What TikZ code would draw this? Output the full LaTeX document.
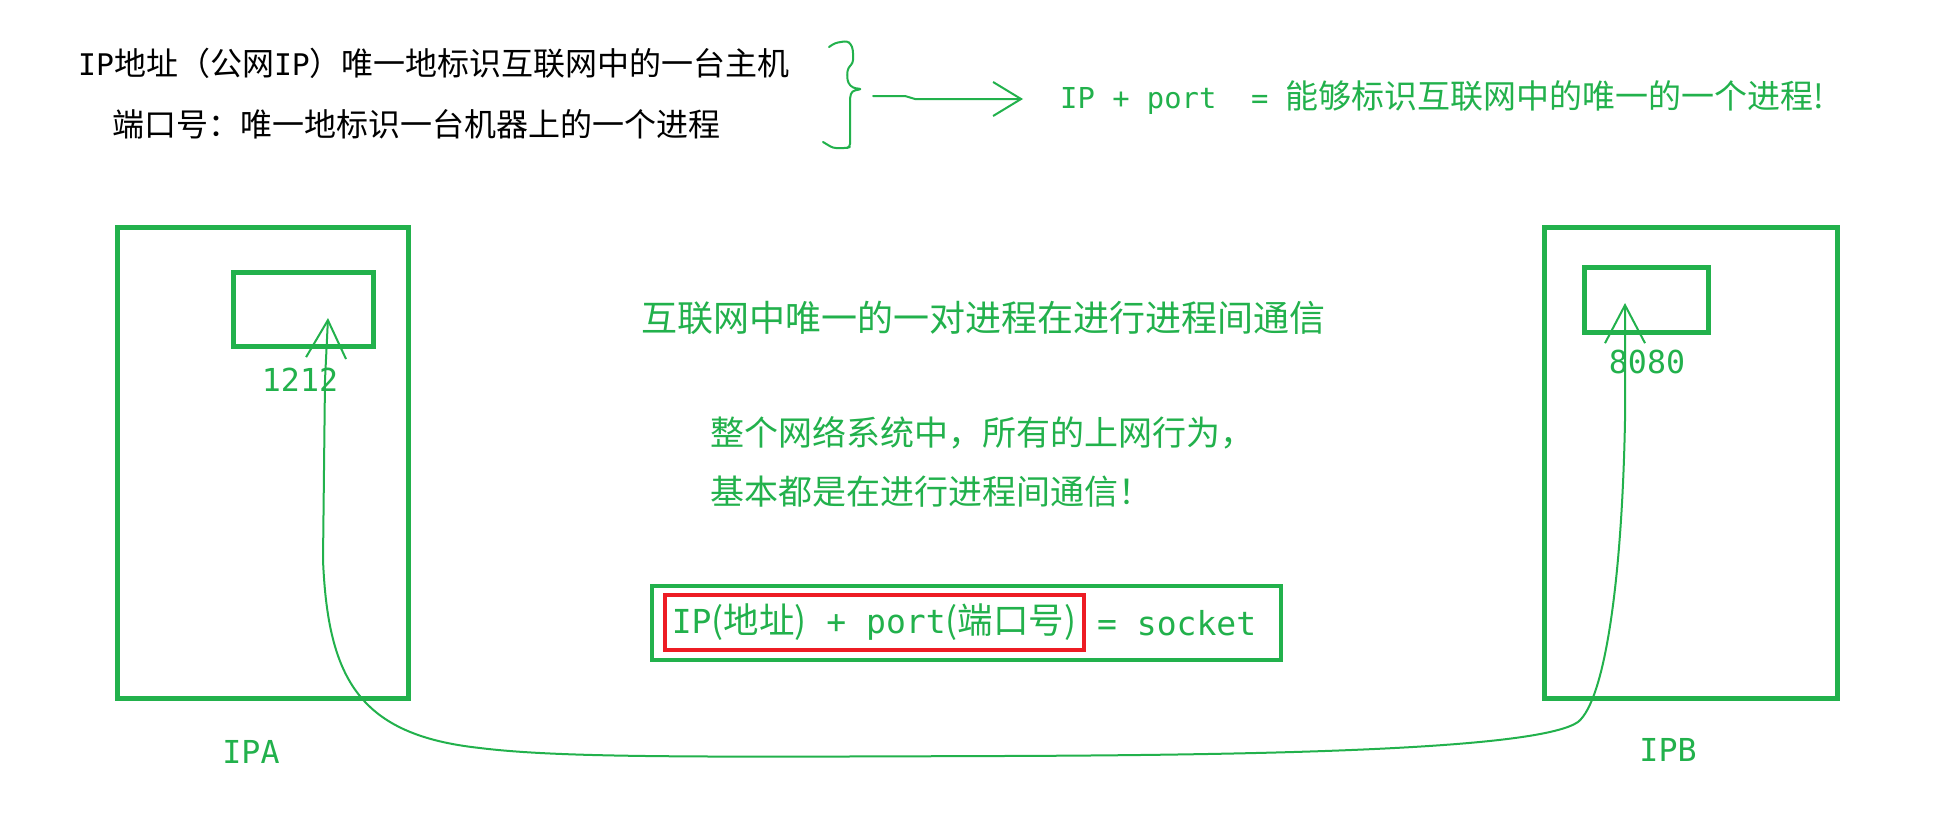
\documentclass[tikz,border=0pt]{standalone}
\usepackage{fontspec}
\usetikzlibrary{arrows.meta}
\newfontfamily\cjk{Noto Sans CJK SC}
\newfontfamily\mono[Scale=0.93]{DejaVu Sans Mono}
\definecolor{pgreen}{RGB}{34,177,76}
\definecolor{pred}{RGB}{237,28,36}
\begin{document}
\begin{tikzpicture}[x=1pt,y=-1pt,
  hostbox/.style={draw=pgreen, line width=5pt, inner sep=0pt},
  blacktxt/.style={inner sep=0pt, anchor=west, font=\fontsize{32}{38}\selectfont\cjk, text=black},
  greentxt/.style={inner sep=0pt, font=\fontsize{34}{40}\selectfont\cjk, text=pgreen},
  monolbl/.style={inner sep=0pt, font=\fontsize{34}{40}\selectfont\mono, text=pgreen},
  hand/.style={draw=pgreen, line width=2pt, line cap=round, line join=round},
  barb/.tip={Straight Barb[length=38pt,width=40pt]},
  smallbarb/.tip={Straight Barb[length=28pt,width=34pt]}
]
\useasboundingbox (0,0) rectangle (1958,812);
\fill[white] (0,0) rectangle (1958,812);

% top statements
\node[blacktxt] (ipline) at (78,63) {{\mono IP}地址（公网{\mono IP}）唯一地标识互联网中的一台主机};
\node[blacktxt] (portline) at (112,124) {端口号：唯一地标识一台机器上的一个进程};

% brace
\draw[hand, rounded corners=3pt] (829,47) -- (835,43) -- (847,41) -- (851,44) -- (853,50) -- (853,63) -- (848,68) -- (847,75) -- (848,83) -- (853,88) -- (862,89) -- (852,91) -- (850,97) -- (850,147) -- (847,148) -- (833,148) -- (828,145) -- (823,142);

\coordinate (braceTip) at (873,96);
\coordinate (arrEnd) at (1023,99);
\draw[hand, -smallbarb] (braceTip) -- ++(32,0) -- ++(10,3) -- (arrEnd);

\node[greentxt, anchor=west, font=\fontsize{33}{38}\selectfont\cjk] (ipport) at (1060,98) {{\fontsize{31}{36}\selectfont\mono IP + port\ \ = }能够标识互联网中的唯一的一个进程!};

% hosts
\node[hostbox, minimum width=291pt, minimum height=471pt] (hostA) at (262.5,462.5) {};
\node[hostbox, minimum width=140pt, minimum height=74pt] (portA) at (303,309) {};
\node[hostbox, minimum width=293pt, minimum height=471pt] (hostB) at (1690.5,462.5) {};
\node[hostbox, minimum width=124pt, minimum height=65pt] (portB) at (1646,299.5) {};

\node[monolbl] (lblA) at (300,380) {1212};
\node[monolbl] (lblB) at (1647,362) {8080};
\node[monolbl] (ipa) at (251,752) {IPA};
\node[monolbl] (ipb) at (1668,750) {IPB};

% middle texts
\node[greentxt, font=\fontsize{36}{42}\selectfont\cjk] (pair) at (983,318) {互联网中唯一的一对进程在进行进程间通信};
\node[greentxt, anchor=west] (all1) at (710,433) {整个网络系统中，所有的上网行为，};
\node[greentxt, anchor=west] (all2) at (710,492) {基本都是在进行进程间通信！};

% socket
\node[draw=pgreen, line width=4pt, minimum width=629pt, minimum height=74pt] (sockbox) at (966,622.5) {};
\node[draw=pred, line width=4pt, minimum width=419pt, minimum height=55pt, inner sep=0pt, greentxt, font=\fontsize{35.5}{40}\selectfont\cjk] (addrbox) at (874,622.5) {{\mono IP}(地址){\mono\ + port}(端口号)};
\node[greentxt, anchor=west, font=\fontsize{35.5}{40}\selectfont\mono] (sockeq) at (1097,623) {= socket};

% communication curve
\coordinate (tipA) at (328,318);
\coordinate (tipB) at (1625,303);
\draw[hand, barb-barb] (tipA) -- (325,380) -- (323,560) .. controls (328,680) and (360,735) .. (480,748) .. controls (560,758) and (700,757) .. (1000,756) .. controls (1300,755) and (1540,748) .. (1578,722) .. controls (1605,700) and (1622,580) .. (1625,420) -- (tipB);
\end{tikzpicture}
\end{document}
